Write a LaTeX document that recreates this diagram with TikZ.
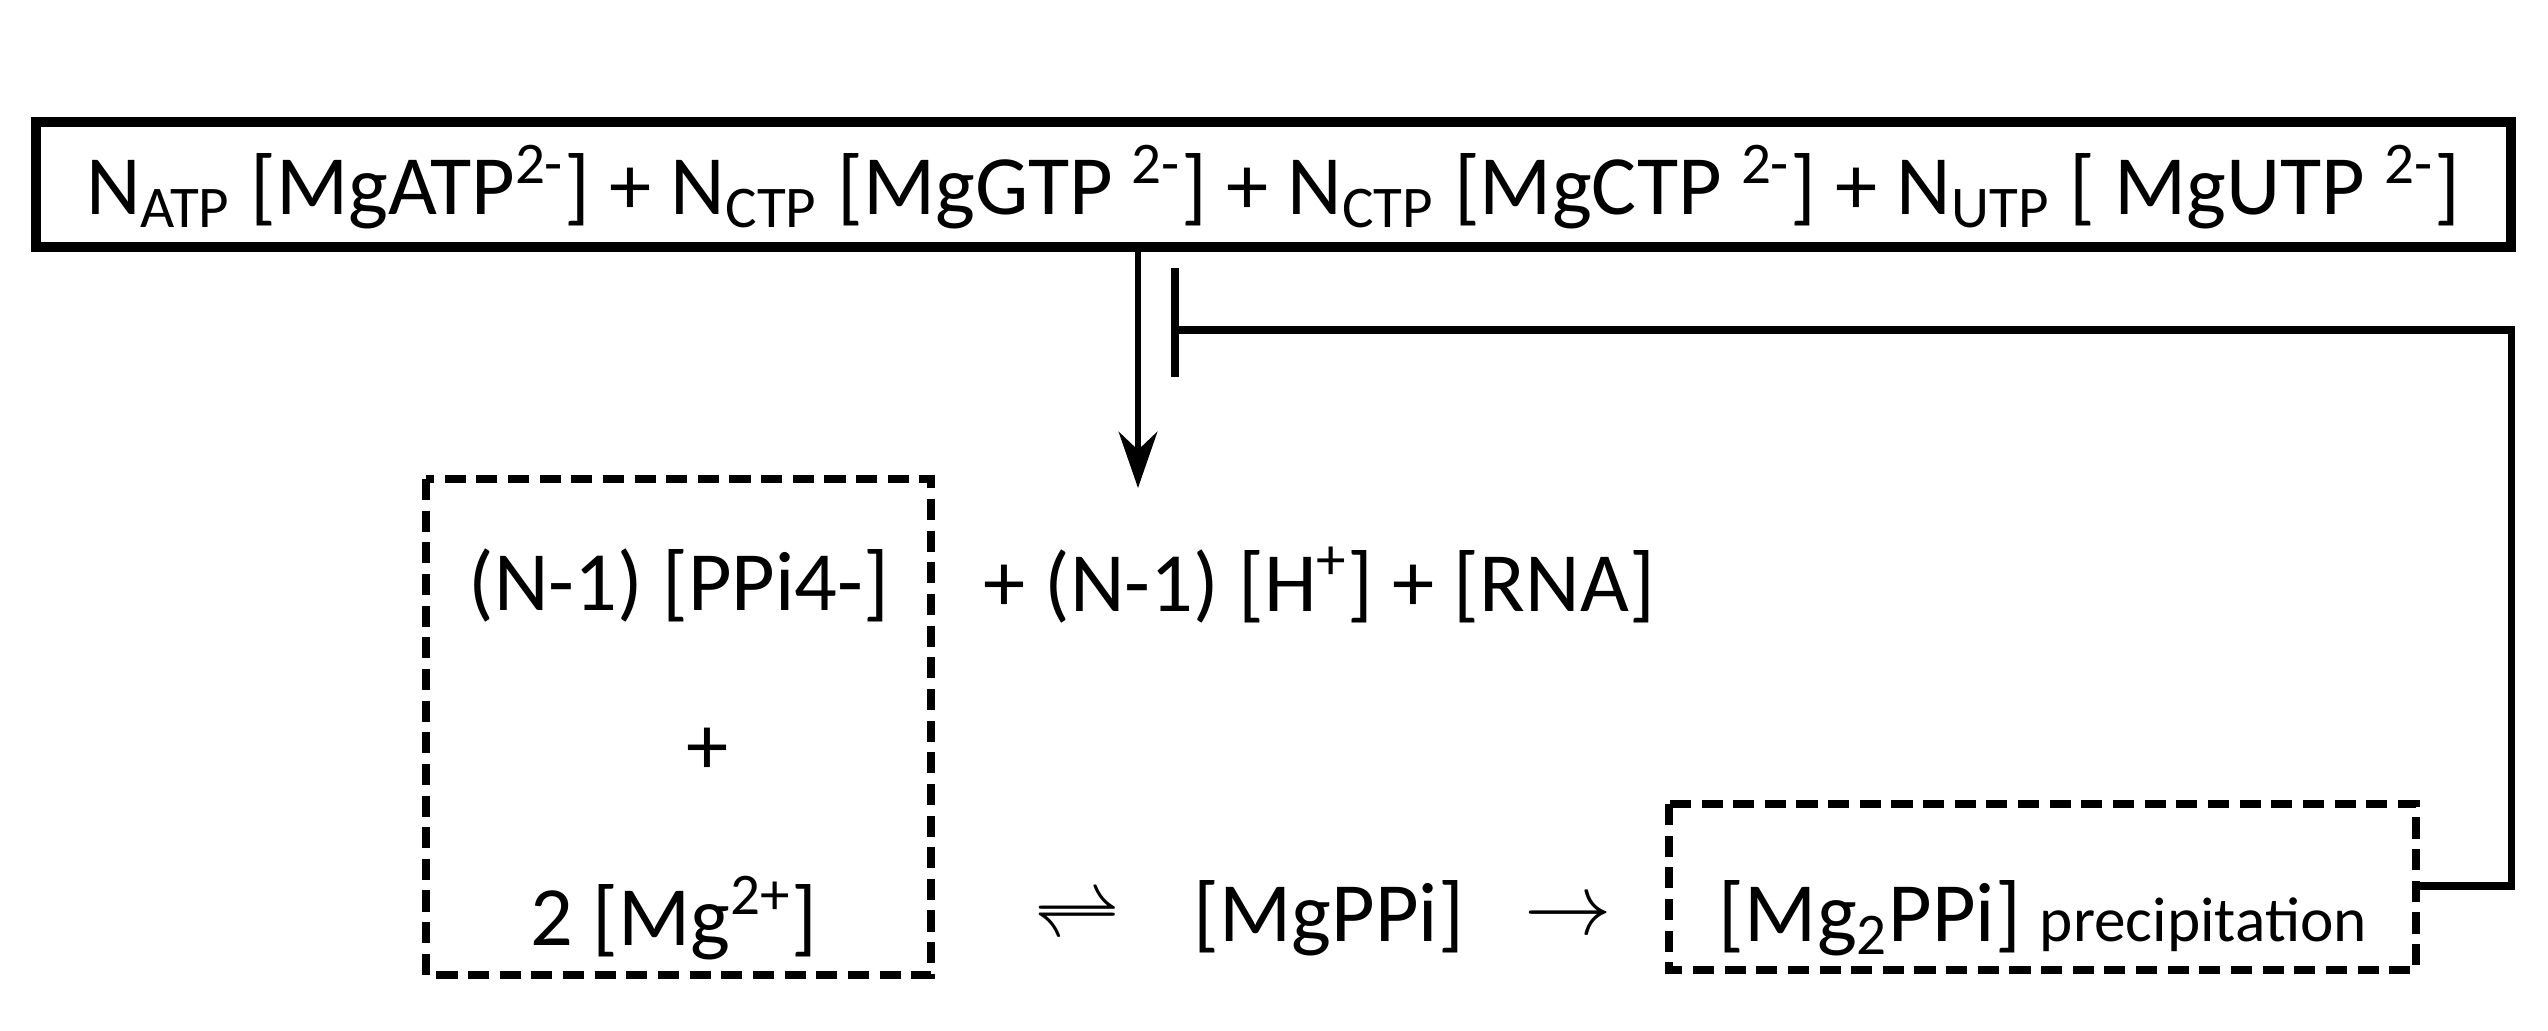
\documentclass[tikz,border=0pt]{standalone}
\usepackage{fontspec}
\setmainfont{Carlito}
\usetikzlibrary{arrows.meta}
\newcommand{\sbs}[1]{\textsubscript{#1}}
\newcommand{\sps}[1]{\textsuperscript{#1}}
\begin{document}
\begin{tikzpicture}[x=0.01cm,y=-0.01cm,
  txt/.style={inner sep=0pt,font=\fontsize{24}{28}\selectfont},
  solidbox/.style={draw,line width=2.6pt},
  dbox/.style={draw,line width=2.2pt,dash pattern=on 6pt off 3pt},
  conn/.style={line width=1.6pt}]
\useasboundingbox (0,0) rectangle (2548,1030);
\draw[solidbox] (36,122) rectangle (2511,247);
\node[txt] (top) at (1273,187) {N\sbs{ATP} [MgATP\sps{2-}] + N\sbs{CTP} [MgGTP \sps{2-}] + N\sbs{CTP} [MgCTP \sps{2-}] + N\sbs{UTP} [ MgUTP \sps{2-}]};
\coordinate (a1) at (1138,247);
\coordinate (a2) at (1138,488);
\draw[conn,-{Stealth[length=16pt,width=11pt]}] (a1) -- (a2);
\coordinate (b1) at (1175,268);
\coordinate (b2) at (1175,377);
\coordinate (bm) at (1175,330);
\coordinate (r1) at (2511,330);
\coordinate (r2) at (2511,886);
\coordinate (r3) at (2416,886);
\draw[conn,line width=2.2pt] (b1) -- (b2);
\draw[conn,line width=2pt] (bm) -- (r1) -- (r2) -- (r3);
\draw[dbox] (426,479) rectangle (931,975);
\draw[dbox] (1669,804) rectangle (2416,970);
\node[txt] (ppi) at (679,585) {(N-1) [PPi4-]};
\node[txt,anchor=west] (hrna) at (983,585) {+ (N-1) [H\sps{+}] + [RNA]};
\node[txt] (plus) at (708,751) {+};
\node[txt] (mg) at (674,918) {2 [Mg\sps{2+}]};
\node[txt] (eq) at (1077,918) {$\rightleftharpoons$};
\node[txt] (mgppi) at (1329,918) {[MgPPi]};
\node[txt] (arr) at (1568,918) {$\rightarrow$};
\node[txt] (mg2) at (2043,918) {[Mg\sbs{2}PPi] {\fontsize{18}{21}\selectfont precipitation}};
\end{tikzpicture}
\end{document}
